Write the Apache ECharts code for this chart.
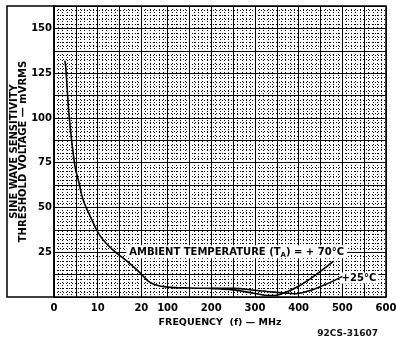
<!DOCTYPE html>
<html>
<head>
<meta charset="utf-8">
<script src="https://cdn.jsdelivr.net/npm/echarts@6/dist/echarts.min.js"></script>
<style>html,body{margin:0;padding:0;background:#fff}#c{width:396px;height:338px}</style>
</head>
<body>
<div id="c"></div>
<script>
// ---- data (frequency in MHz, threshold in mVRMS) ----
var xTickFreqs = [0, 10, 20, 100, 200, 300, 400, 500, 600];
var xTickLabels = ['0', '10', '20', '100', '200', '300', '400', '500', '600'];
var xGridFreqs = [0, 5, 10, 15, 20, 100, 150, 200, 250, 300, 350, 400, 450, 500, 550, 600];
var yTickValues = [25, 50, 75, 100, 125, 150];

var freq70 = [2.5, 2.7, 3.5, 4.8, 5.6, 6.7, 8.3, 10.6, 13.6, 16.7, 19.7, 40, 60, 100, 150, 200, 250, 300, 330, 350, 366, 400, 440, 480];
var volt70 = [132, 128, 100, 73, 65, 54, 45, 34, 26, 20, 13.5, 9, 7, 5.5, 5, 4.8, 4, 2, 0.8, 1, 2.2, 6, 12.5, 20];

var freq25 = [200, 250, 300, 340, 366, 390, 420, 450, 480, 500];
var volt25 = [4.8, 4.8, 3.8, 2.8, 2.2, 1.8, 3.2, 5.8, 9, 11.5];

// broken frequency scale: 0..20 linear, break, 100..600 linear
function u(f) {
  if (f <= 20) return f;
  if (f < 100) return 20 + (f - 20) / 80 * 6;
  return 26 + (f - 100) / 10;
}
var labelMap = {};
xTickFreqs.forEach(function (f, i) { labelMap[Math.round(u(f))] = xTickLabels[i]; });

function pts(fs, vs) { return fs.map(function (f, i) { return [u(f), vs[i]]; }); }

var FONT = 'DejaVu Sans';
var chart = echarts.init(document.getElementById('c'), null, { renderer: 'canvas' });
chart.setOption({
  animation: false,
  backgroundColor: '#fff',
  title: {
    text: '92CS-31607', right: 13, bottom: -5,
    textStyle: { fontFamily: FONT, fontSize: 9, fontWeight: 'bold', color: '#111' }
  },
  grid: [
    { left: 54, right: 10, top: 6, bottom: 41, show: true, borderColor: '#000', borderWidth: 1.5, backgroundColor: 'transparent', outerBoundsMode: 'none', containLabel: false },
    { left: 7, width: 47, top: 6, bottom: 41, show: true, borderColor: '#000', borderWidth: 1.5, outerBoundsMode: 'none', containLabel: false }
  ],
  xAxis: [{
    gridIndex: 0, type: 'value', min: 0, max: u(600), interval: 1,
    axisLine: { show: false }, axisTick: { show: false },
    splitLine: { show: true, lineStyle: { color: '#000', width: 1, type: [1, 2] } },
    axisLabel: {
      interval: 0, showMinLabel: true, showMaxLabel: true, hideOverlap: false, margin: 6,
      color: '#000', fontFamily: FONT, fontWeight: 'bold', fontSize: 10,
      formatter: function (v) { var k = Math.round(v); return labelMap[k] !== undefined && Math.abs(v - k) < 1e-6 ? labelMap[k] : ''; }
    },
    name: 'FREQUENCY  (f) — MHz', nameLocation: 'middle', nameGap: 20,
    nameTextStyle: { color: '#000', fontFamily: FONT, fontWeight: 'bold', fontSize: 9.5 }
  }, {
    gridIndex: 1, type: 'value', min: 0, max: 1, show: false
  }],
  yAxis: [{
    gridIndex: 0, type: 'value', min: 0, max: 162.5, interval: 12.5,
    axisLine: { show: false }, axisTick: { show: false },
    splitLine: { show: true, lineStyle: { color: '#000', width: 1 } },
    minorTick: { show: false, splitNumber: 5 },
    minorSplitLine: { show: true, lineStyle: { color: '#000', width: 1, type: [1, 2] } },
    axisLabel: {
      margin: 2, color: '#000', fontFamily: FONT, fontWeight: 'bold', fontSize: 10,
      formatter: function (v) { return yTickValues.indexOf(v) >= 0 ? String(v) : ''; }
    },
    name: 'SINE WAVE SENSITIVITY\nTHRESHOLD VOLTAGE — mVRMS',
    nameLocation: 'middle', nameRotate: 90, nameGap: 26, nameMoveOverlap: false,
    nameTextStyle: { color: '#000', fontFamily: FONT, fontWeight: 'bold', fontSize: 10, lineHeight: 9, align: 'center' }
  }, {
    gridIndex: 1, type: 'value', min: 0, max: 1, show: false
  }],
  series: [{
    name: 'grid', type: 'line', xAxisIndex: 0, yAxisIndex: 0, data: [], silent: true,
    markLine: {
      silent: true, symbol: 'none', label: { show: false },
      lineStyle: { color: '#000', width: 1, type: 'solid' },
      data: xGridFreqs.map(function (f) { return { xAxis: u(f) }; })
    }
  }, {
    name: '+70°C', type: 'line', xAxisIndex: 0, yAxisIndex: 0,
    data: pts(freq70, volt70), smooth: 0.35, showSymbol: false, symbol: 'none',
    lineStyle: { color: '#000', width: 1.6 }, z: 5,
    markPoint: {
      symbol: 'rect', symbolSize: 0,
      data: [{ coord: [u(258), 25.2] }],
      label: {
        show: true, position: 'inside', backgroundColor: '#fff', padding: [1, 3, 0, 3],
        formatter: '{n|AMBIENT TEMPERATURE (T}{s|A}{n|) = + 70°C}',
        rich: {
          n: { fontFamily: FONT, fontWeight: 'bold', fontSize: 10, color: '#000' },
          s: { fontFamily: FONT, fontWeight: 'bold', fontSize: 7, color: '#000', padding: [5, 0, 0, 0] }
        }
      }
    }
  }, {
    name: '+25°C', type: 'line', xAxisIndex: 0, yAxisIndex: 0,
    data: pts(freq25, volt25), smooth: 0.35, showSymbol: false, symbol: 'none',
    lineStyle: { color: '#000', width: 1.6 }, z: 5,
    markPoint: {
      symbol: 'rect', symbolSize: 0,
      data: [{ coord: [u(538), 10.6] }],
      label: {
        show: true, position: 'inside', backgroundColor: '#fff', padding: [1, 2, 0, 2],
        formatter: '+25°C',
        fontFamily: FONT, fontWeight: 'bold', fontSize: 10, color: '#000'
      }
    }
  }, {
    type: 'line', xAxisIndex: 1, yAxisIndex: 1, data: [], silent: true
  }]
});
</script>
</body>
</html>
